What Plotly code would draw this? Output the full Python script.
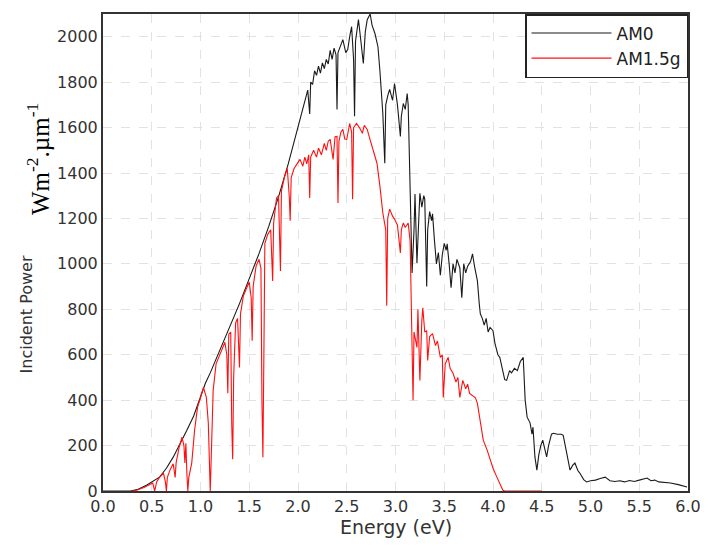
import plotly.graph_objects as go

# ---- AM0 spectrum (black) ----
am0_energy = [0.00, 0.28, 0.35, 0.45, 0.58, 0.65, 0.72, 0.80, 0.86, 0.93, 0.99, 1.05, 1.10, 1.20, 1.30,
              1.40, 1.50, 1.60, 1.70, 1.80, 1.90, 1.95, 2.00, 2.05, 2.10, 2.12, 2.13, 2.15, 2.17, 2.19,
              2.21, 2.23, 2.25, 2.27, 2.29, 2.31, 2.33, 2.35, 2.37, 2.39, 2.40, 2.41, 2.44, 2.46, 2.49,
              2.51, 2.53, 2.55, 2.57, 2.58, 2.59, 2.62, 2.64, 2.67, 2.69, 2.71, 2.74, 2.76, 2.79, 2.82,
              2.84, 2.86, 2.87, 2.89, 2.90, 2.92, 2.94, 2.97, 2.99, 3.02, 3.05, 3.06, 3.08, 3.10, 3.12,
              3.13, 3.15, 3.16, 3.17, 3.19, 3.20, 3.22, 3.24, 3.25, 3.27, 3.29, 3.30, 3.32, 3.33, 3.35,
              3.37, 3.38, 3.40, 3.42, 3.44, 3.46, 3.48, 3.50, 3.52, 3.53, 3.55, 3.57, 3.59, 3.61, 3.63,
              3.66, 3.68, 3.70, 3.72, 3.74, 3.77, 3.79, 3.81, 3.84, 3.86, 3.87, 3.89, 3.91, 3.93, 3.95,
              3.97, 4.00, 4.02, 4.05, 4.07, 4.10, 4.12, 4.14, 4.17, 4.19, 4.22, 4.25, 4.28, 4.31, 4.33,
              4.35, 4.38, 4.40, 4.41, 4.43, 4.45, 4.47, 4.49, 4.51, 4.53, 4.55, 4.57, 4.60, 4.62, 4.66,
              4.70, 4.72, 4.75, 4.79, 4.82, 4.84, 4.87, 4.89, 4.93, 4.96, 5.00, 5.05, 5.10, 5.15, 5.20,
              5.25, 5.30, 5.35, 5.40, 5.45, 5.50, 5.55, 5.58, 5.62, 5.66, 5.70, 5.75, 5.82, 5.90, 5.99]
am0_power = [0, 0, 6, 26, 61, 100, 149, 215, 267, 330, 399, 474, 520, 620, 720,
             825, 935, 1045, 1165, 1295, 1440, 1520, 1600, 1690, 1765, 1660, 1800, 1790, 1850, 1830,
             1870, 1840, 1885, 1860, 1900, 1880, 1940, 1900, 1950, 1920, 1680, 1930, 1970, 1987, 1930,
             1943, 2000, 2044, 1900, 1650, 1980, 2075, 2000, 1882, 2020, 2075, 2100, 2050, 2013, 1956,
             1850, 1724, 1662, 1443, 1700, 1740, 1768, 1720, 1794, 1700, 1561, 1650, 1706, 1680, 1750,
             1700, 1342, 1150, 960, 1150, 1307, 1004, 1200, 1311, 1250, 1300, 1285, 900, 1150, 1230,
             1190, 1220, 1100, 1000, 1050, 950, 1040, 1090, 1060, 1088, 1000, 895, 1000, 960, 1020,
             982, 851, 1000, 960, 990, 1010, 1044, 990, 925, 820, 780, 760, 730, 760, 700,
             720, 706, 650, 600, 588, 520, 490, 487, 530, 520, 540, 530, 570, 588, 400,
             325, 300, 250, 281, 150, 92, 160, 200, 224, 180, 150, 200, 250, 254, 250,
             250, 245, 180, 92, 115, 123, 90, 79, 50, 40, 45, 48, 55, 61, 45,
             42, 45, 40, 46, 42, 48, 52, 57, 45, 48, 40, 38, 35, 28, 18]

# ---- AM1.5g spectrum (red) ----
am15_energy = [0.30, 0.35, 0.42, 0.48, 0.51, 0.53, 0.55, 0.58, 0.62, 0.64, 0.65, 0.66, 0.69, 0.72, 0.74,
               0.75, 0.78, 0.81, 0.83, 0.84, 0.85, 0.86, 0.87, 0.88, 0.91, 0.94, 0.97, 1.00, 1.03, 1.06,
               1.08, 1.10, 1.11, 1.13, 1.16, 1.19, 1.22, 1.25, 1.27, 1.28, 1.29, 1.31, 1.32, 1.33, 1.34,
               1.36, 1.38, 1.40, 1.41, 1.44, 1.47, 1.50, 1.52, 1.53, 1.54, 1.57, 1.60, 1.62, 1.63, 1.64,
               1.65, 1.66, 1.69, 1.72, 1.74, 1.75, 1.78, 1.80, 1.82, 1.83, 1.86, 1.89, 1.91, 1.92, 1.93,
               1.96, 1.99, 2.02, 2.05, 2.07, 2.09, 2.11, 2.12, 2.13, 2.16, 2.19, 2.21, 2.24, 2.27, 2.29,
               2.31, 2.33, 2.36, 2.38, 2.40, 2.41, 2.42, 2.44, 2.46, 2.48, 2.50, 2.53, 2.55, 2.56, 2.57,
               2.60, 2.63, 2.66, 2.68, 2.71, 2.73, 2.76, 2.78, 2.81, 2.84, 2.87, 2.90, 2.91, 2.92, 2.94,
               2.97, 2.99, 3.02, 3.05, 3.06, 3.08, 3.10, 3.13, 3.15, 3.16, 3.17, 3.18, 3.19, 3.22, 3.23,
               3.25, 3.27, 3.28, 3.30, 3.32, 3.33, 3.35, 3.38, 3.41, 3.43, 3.46, 3.48, 3.49, 3.51, 3.54,
               3.56, 3.59, 3.62, 3.64, 3.66, 3.68, 3.69, 3.72, 3.74, 3.76, 3.79, 3.82, 3.84, 3.87, 3.90,
               3.94, 3.97, 4.00, 4.04, 4.07, 4.10, 4.12, 4.50]
am15_power = [0, 4, 15, 30, 35, 0, 40, 60, 79, 40, 0, 60, 95, 120, 60,
              125, 190, 237, 200, 123, 210, 80, 0, 60, 123, 270, 369, 410, 456, 412,
              300, 0, 200, 443, 560, 590, 625, 655, 600, 430, 690, 700, 300, 140, 500,
              740, 760, 544, 780, 860, 890, 920, 850, 662, 900, 990, 1020, 980, 400, 149,
              600, 1090, 1130, 1150, 925, 1180, 1290, 1300, 969, 1320, 1380, 1420, 1300, 1190, 1380,
              1420, 1440, 1460, 1430, 1470, 1440, 1480, 1290, 1470, 1500, 1470, 1510, 1480, 1530, 1500,
              1540, 1548, 1460, 1560, 1561, 1268, 1540, 1580, 1592, 1550, 1548, 1618, 1580, 1285, 1600,
              1618, 1600, 1575, 1610, 1592, 1560, 1518, 1490, 1443, 1342, 1224, 1150, 816, 1200, 1241,
              1210, 1197, 1170, 1048, 1150, 1180, 1160, 1180, 1100, 860, 772, 400, 700, 632, 800,
              487, 750, 807, 700, 706, 575, 680, 693, 640, 660, 588, 600, 412, 560, 588,
              540, 518, 480, 500, 412, 470, 487, 450, 470, 430, 420, 410, 386, 300, 224,
              180, 136, 100, 61, 30, 4, 0, 0]

x_ticks = [0.0, 0.5, 1.0, 1.5, 2.0, 2.5, 3.0, 3.5, 4.0, 4.5, 5.0, 5.5, 6.0]
y_ticks = [0, 200, 400, 600, 800, 1000, 1200, 1400, 1600, 1800, 2000]

fig = go.Figure()
fig.add_trace(go.Scatter(x=am0_energy, y=am0_power, mode="lines", name="AM0",
                         line=dict(color="#1a1a1a", width=1.1)))
fig.add_trace(go.Scatter(x=am15_energy, y=am15_power, mode="lines", name="AM1.5g",
                         line=dict(color="#ff1010", width=1.1)))

tick_font = dict(family="DejaVu Sans", size=16, color="#333333")
fig.update_xaxes(range=[0, 6], tickvals=x_ticks, ticktext=[f"{v:.1f}" for v in x_ticks],
                 showgrid=True, gridcolor="#e2e2e2", griddash="dash", gridwidth=1,
                 showline=True, mirror=True, linecolor="#333333", linewidth=2,
                 zeroline=False, ticks="", tickfont=tick_font)
fig.update_yaxes(range=[0, 2100], tickvals=y_ticks,
                 showgrid=True, gridcolor="#e2e2e2", griddash="dash", gridwidth=1,
                 showline=True, mirror=True, linecolor="#333333", linewidth=2,
                 zeroline=False, ticks="", tickfont=tick_font)

fig.add_annotation(text="Energy (eV)", xref="paper", yref="paper", x=0.5, y=-0.075,
                   showarrow=False, yanchor="middle",
                   font=dict(family="DejaVu Sans", size=19, color="#333333"))
fig.add_annotation(text="Incident Power", xref="paper", yref="paper", x=-0.130, y=0.37,
                   showarrow=False, textangle=-90, xanchor="center", yanchor="middle",
                   font=dict(family="DejaVu Sans", size=16, color="#333333"))
fig.add_annotation(text="Wm<sup>-2</sup>.µm<sup>-1</sup>", xref="paper", yref="paper",
                   x=-0.111, y=0.696, showarrow=False, textangle=-90,
                   xanchor="center", yanchor="middle",
                   font=dict(family="Liberation Serif", size=25, color="#000000"))

# the page body adds an 8px margin, so the figure is sized to fit the 708x546 window
fig.update_layout(
    width=700, height=530,
    margin=dict(l=95, r=20, t=4, b=47),
    plot_bgcolor="white", paper_bgcolor="white",
    showlegend=True,
    legend=dict(x=1, y=1, xanchor="right", yanchor="top",
                bgcolor="white", bordercolor="#222222", borderwidth=1.5,
                font=dict(family="DejaVu Sans", size=17, color="#222222"),
                itemwidth=80, tracegroupgap=0),
)

fig.write_html("out.html")
